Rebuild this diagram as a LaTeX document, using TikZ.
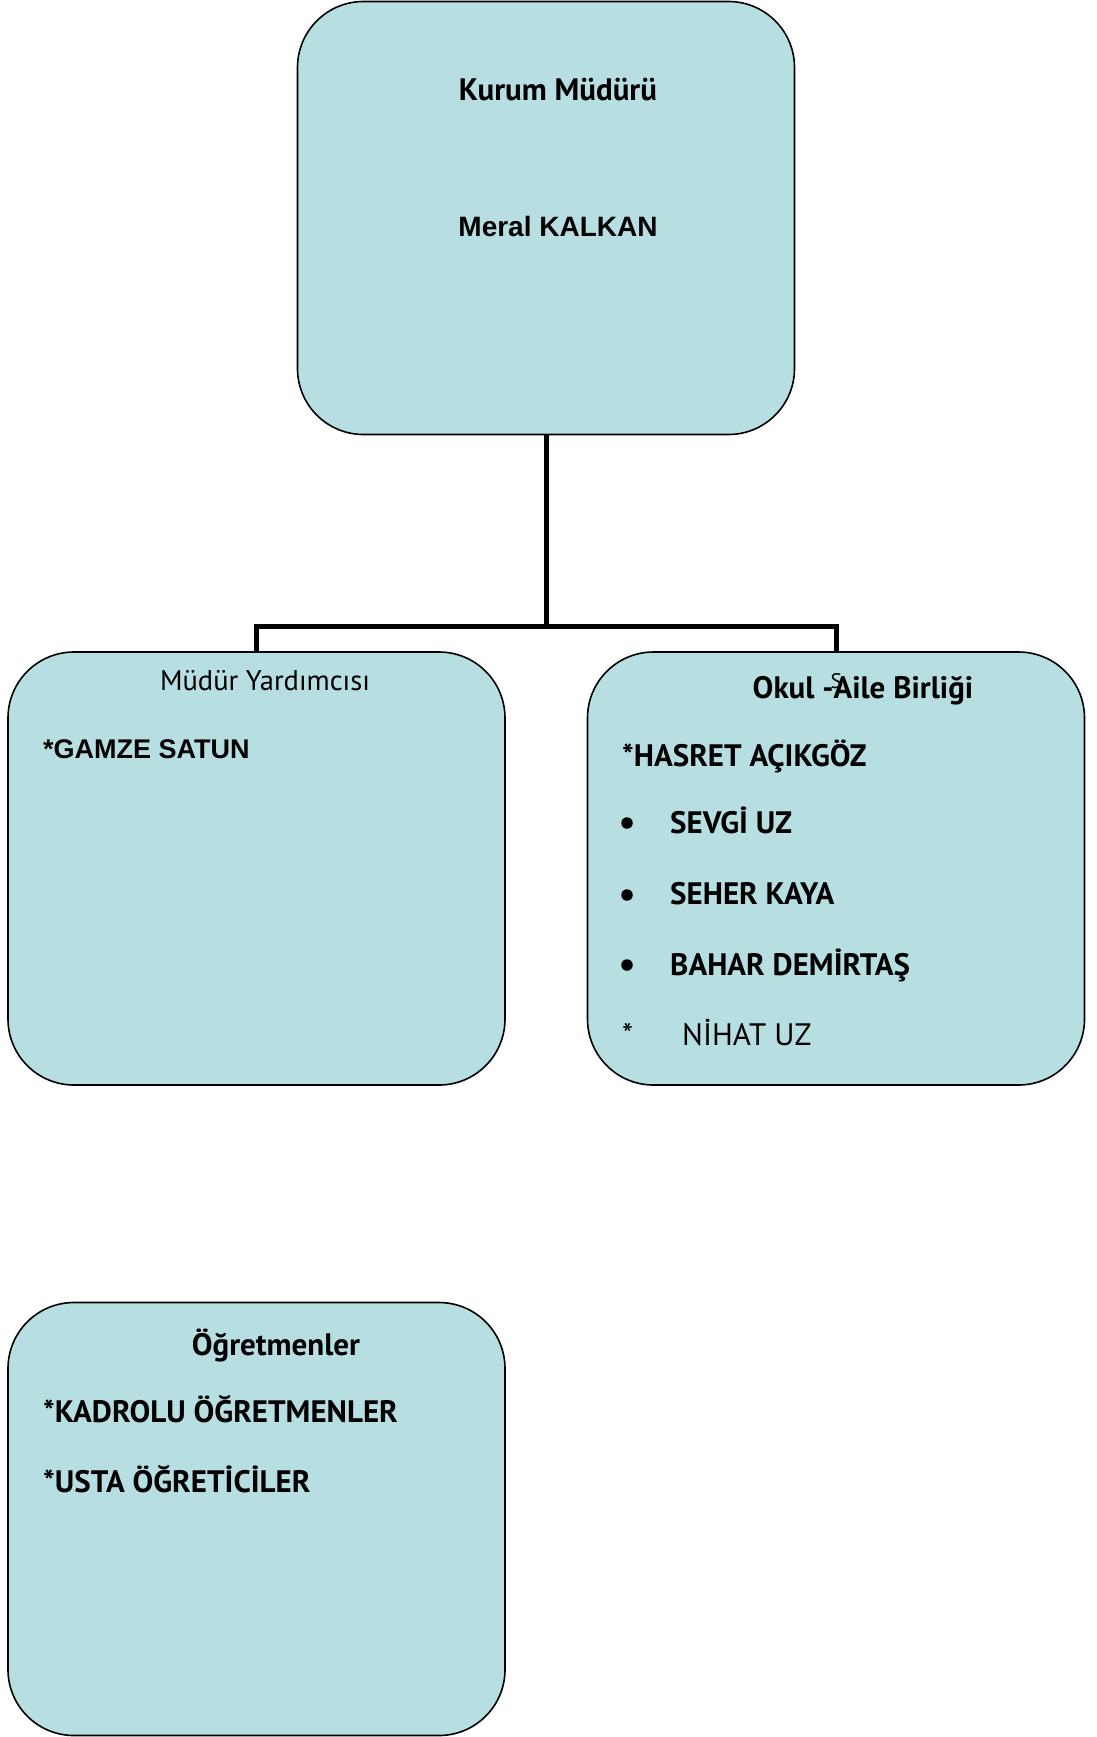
\documentclass[tikz,border=0pt]{standalone}
\usepackage{fontspec}
\setmainfont{PT Sans}
\newfontfamily\arialfont{Liberation Sans}
\usepackage{xcolor}
\usetikzlibrary{positioning,calc}
\definecolor{kutu}{HTML}{B7DEE1}

\begin{document}
\begin{tikzpicture}[x=1pt,y=-1pt,
    box/.style={draw=black,line width=1.6pt,fill=kutu,rounded corners=66pt,
      minimum width=497pt,minimum height=433pt,inner sep=0pt},
    bas/.style={anchor=base,inner sep=0pt,font=\fontsize{31}{37}\selectfont\bfseries},
    alt/.style={anchor=base,inner sep=0pt,font=\fontsize{28.5}{34}\selectfont},
    satir/.style={anchor=base west,inner sep=0pt,font=\fontsize{31}{37}\selectfont\bfseries},
    ariel/.style={inner sep=0pt,font=\fontsize{28}{34}\selectfont\arialfont\bfseries},
    nokta/.style={circle,fill=black,inner sep=0pt,minimum size=11.5pt},
    hat/.style={line width=5pt}]
    \useasboundingbox (0,0) rectangle (1097,1737);

    % kutular
    \node[box] (mudur) at (546,218) {};
    \node[box] (yard) at (256.5,868.5) {};
    \node[box] (aile) at (836,868.5) {};
    \node[box] (ogret) at (256.5,1519) {};

    % baglanti cizgileri
    \coordinate (dal) at (546,626);
    \draw[hat] (mudur.south) -- (dal) -| (yard.north);
    \draw[hat] (dal) -| (aile.north);

    % kurum muduru
    \node[bas] (mudurbaslik) at (558,100) {Kurum Müdürü};
    \node[ariel,anchor=base] (mudurad) at (558,236) {Meral KALKAN};

    % mudur yardimcisi
    \node[alt] (yardbaslik) at (265,690) {Müdür Yardımcısı};
    \node[ariel,anchor=base west,font=\fontsize{27}{32}\selectfont\arialfont\bfseries] (yardad) at (43,758) {*GAMZE SATUN};

    % okul - aile birligi
    \node[bas] (ailebaslik) at (863,698) {Okul -\rlap{\raisebox{10pt}{\kern-3pt\fontsize{21}{25}\selectfont\mdseries S}}Aile Birliği};
    \node[satir] (aile1) at (622,766) {*HASRET AÇIKGÖZ};
    \node[nokta] (n1) at (627,823) {};
    \node[satir] (aile2) at (670,833) {SEVGİ UZ};
    \node[nokta] (n2) at (627,895) {};
    \node[satir] (aile3) at (670,904) {SEHER KAYA};
    \node[nokta] (n3) at (627,965) {};
    \node[satir] (aile4) at (670,975) {BAHAR DEMİRTAŞ};
    \node[satir,font=\fontsize{31}{37}\selectfont] (yildiz) at (622,1045) {*};
    \node[satir,font=\fontsize{31}{37}\selectfont] (aile5) at (682,1045) {NİHAT UZ};

    % ogretmenler
    \node[bas] (ogretbaslik) at (276,1355) {Öğretmenler};
    \node[satir] (ogret1) at (43,1422) {*KADROLU ÖĞRETMENLER};
    \node[satir] (ogret2) at (43,1492) {*USTA ÖĞRETİCİLER};
\end{tikzpicture}
\end{document}
